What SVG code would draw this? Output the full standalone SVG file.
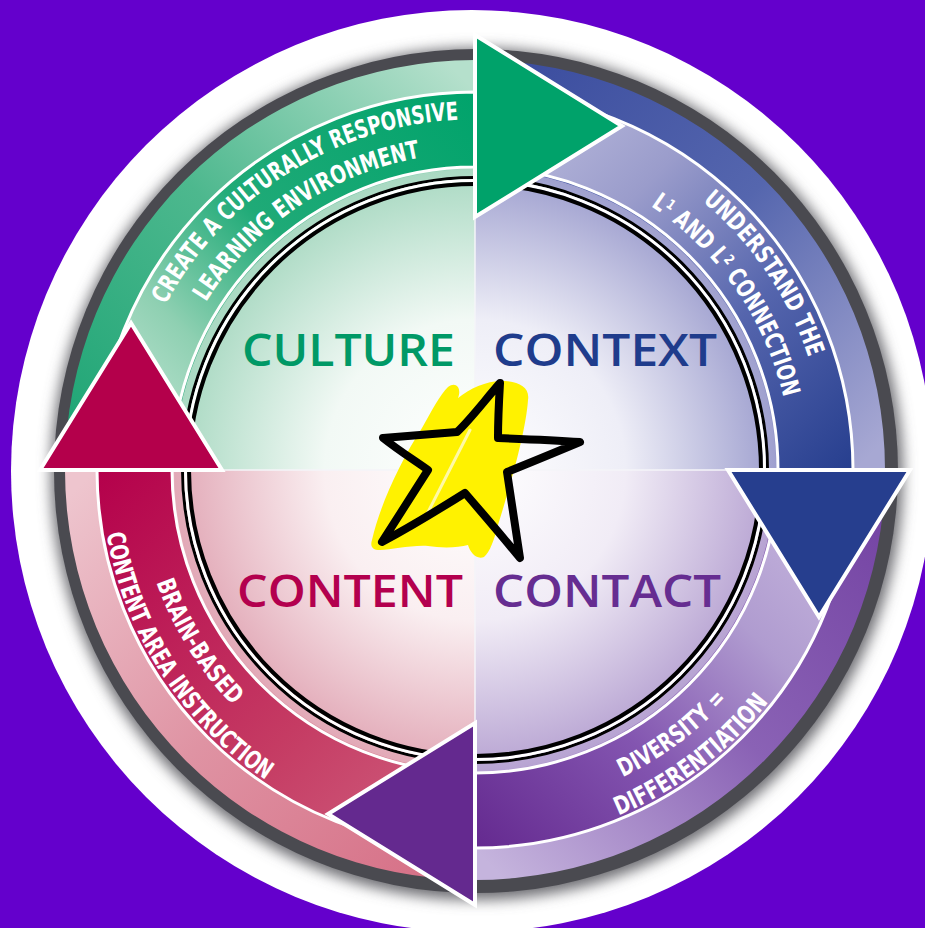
<svg xmlns="http://www.w3.org/2000/svg" width="925" height="928" viewBox="0 0 925 928">
<defs>
<style>
.band{font-family:"DejaVu Sans Condensed","DejaVu Sans",sans-serif;font-weight:bold;font-size:25px;fill:#fff}
.big{font-family:"Open Sans",Lato,sans-serif;font-weight:600;font-size:46px}
.shaft{stroke:#fff;stroke-width:3;stroke-linejoin:miter}
.head{stroke:#fff;stroke-width:4;stroke-linejoin:miter}
</style>
<filter id="blur" x="-20%" y="-20%" width="140%" height="140%"><feGaussianBlur stdDeviation="7"/></filter>
<linearGradient id="gOut" gradientUnits="userSpaceOnUse" x1="95" y1="470" x2="475" y2="90"><stop offset="0" stop-color="#1EA575"/><stop offset="0.5" stop-color="#4DB88E"/><stop offset="1" stop-color="#B5E0CC"/></linearGradient>
<linearGradient id="gSh" gradientUnits="userSpaceOnUse" x1="95" y1="470" x2="475" y2="90"><stop offset="0" stop-color="#D8EFE4"/><stop offset="0.3" stop-color="#8FD0B2"/><stop offset="0.55" stop-color="#1FAA77"/><stop offset="1" stop-color="#00A36B"/></linearGradient>
<linearGradient id="bOut" gradientUnits="userSpaceOnUse" x1="475" y1="90" x2="855" y2="470"><stop offset="0" stop-color="#3A4C9E"/><stop offset="0.5" stop-color="#5566AE"/><stop offset="1" stop-color="#A7A8D3"/></linearGradient>
<linearGradient id="bSh" gradientUnits="userSpaceOnUse" x1="475" y1="90" x2="855" y2="470"><stop offset="0" stop-color="#C5C5E3"/><stop offset="0.35" stop-color="#9A9CCB"/><stop offset="0.65" stop-color="#5565AD"/><stop offset="1" stop-color="#263E8E"/></linearGradient>
<linearGradient id="pOut" gradientUnits="userSpaceOnUse" x1="855" y1="470" x2="475" y2="850"><stop offset="0" stop-color="#7443A3"/><stop offset="0.5" stop-color="#8A62B5"/><stop offset="1" stop-color="#C5B4DD"/></linearGradient>
<linearGradient id="pSh" gradientUnits="userSpaceOnUse" x1="855" y1="470" x2="475" y2="850"><stop offset="0" stop-color="#CDBFE2"/><stop offset="0.35" stop-color="#B09CD0"/><stop offset="0.65" stop-color="#8355B0"/><stop offset="1" stop-color="#64298F"/></linearGradient>
<linearGradient id="rOut" gradientUnits="userSpaceOnUse" x1="475" y1="850" x2="95" y2="470"><stop offset="0" stop-color="#D66F86"/><stop offset="0.5" stop-color="#DF93A3"/><stop offset="1" stop-color="#EEC5CE"/></linearGradient>
<linearGradient id="rSh" gradientUnits="userSpaceOnUse" x1="475" y1="850" x2="95" y2="470"><stop offset="0" stop-color="#D06482"/><stop offset="0.4" stop-color="#C53B63"/><stop offset="1" stop-color="#B4004B"/></linearGradient>
<radialGradient id="qG" gradientUnits="userSpaceOnUse" cx="475" cy="470" r="301"><stop offset="0" stop-color="#FFFFFF"/><stop offset="0.5" stop-color="#F2F9F5"/><stop offset="1" stop-color="#A9D9C2"/></radialGradient>
<radialGradient id="qB" gradientUnits="userSpaceOnUse" cx="475" cy="470" r="301"><stop offset="0" stop-color="#FFFFFF"/><stop offset="0.5" stop-color="#EEEEF7"/><stop offset="1" stop-color="#9FA0CF"/></radialGradient>
<radialGradient id="qP" gradientUnits="userSpaceOnUse" cx="475" cy="470" r="301"><stop offset="0" stop-color="#FFFFFF"/><stop offset="0.5" stop-color="#F1ECF6"/><stop offset="1" stop-color="#B7A3D2"/></radialGradient>
<radialGradient id="qR" gradientUnits="userSpaceOnUse" cx="475" cy="470" r="301"><stop offset="0" stop-color="#FFFFFF"/><stop offset="0.5" stop-color="#FAEFF1"/><stop offset="1" stop-color="#E2A9B7"/></radialGradient>
<path id="tg1" d="M132.6,392.8 A352,352 0 0 1 552.2,127.6"/>
<path id="tg2" d="M163.8,409.5 A317,317 0 0 1 535.5,158.8"/>
<path id="tb1" d="M541,124.2 A352,352 0 0 1 820.8,536"/>
<path id="tb2" d="M531.1,158 A317,317 0 0 1 787,526.1"/>
<path id="tp1" d="M425.8,807.4 A341,341 0 0 0 812.4,519.2"/>
<path id="tp2" d="M423.6,840.5 A374,374 0 0 0 845.5,521.4"/>
<path id="tr1" d="M146,392.8 A338,338 0 0 0 397.8,799"/>
<path id="tr2" d="M109.3,391.6 A374,374 0 0 0 396.6,835.7"/>
</defs>

<rect width="925" height="928" fill="#6400CC"/>
<circle cx="472" cy="471" r="461" fill="#FFFFFF"/>
<circle cx="477" cy="474" r="426" fill="#6d6d72" filter="url(#blur)"/>
<circle cx="476" cy="471" r="422" fill="#4A4A50"/>

<g id="outer-strips">
<path d="M65,470 A410,410 0 0 1 475,60 L475,171 A299,299 0 0 0 176,470 Z" fill="url(#gOut)"/>
<path d="M475,60 A410,410 0 0 1 885,470 L774,470 A299,299 0 0 0 475,171 Z" fill="url(#bOut)"/>
<path d="M885,470 A410,410 0 0 1 475,880 L475,769 A299,299 0 0 0 774,470 Z" fill="url(#pOut)"/>
<path d="M475,880 A410,410 0 0 1 65,470 L176,470 A299,299 0 0 0 475,769 Z" fill="url(#rOut)"/>
</g>

<g id="center">
<path d="M475,470 L174,470 A301,301 0 0 1 475,169 Z" fill="url(#qG)"/>
<path d="M475,470 L475,169 A301,301 0 0 1 776,470 Z" fill="url(#qB)"/>
<path d="M475,470 L776,470 A301,301 0 0 1 475,771 Z" fill="url(#qP)"/>
<path d="M475,470 L475,771 A301,301 0 0 1 174,470 Z" fill="url(#qR)"/>
<circle cx="475" cy="470" r="292.5" fill="none" stroke="#000" stroke-width="3"/>
<circle cx="475" cy="470" r="289.5" fill="none" stroke="#fff" stroke-width="3"/>
<circle cx="475" cy="470" r="286" fill="none" stroke="#000" stroke-width="4"/>
<line x1="475" y1="184" x2="475" y2="756" stroke="#F4F4F8" stroke-width="1.5"/>
<line x1="189" y1="470" x2="761" y2="470" stroke="#F4F4F8" stroke-width="1.5"/>
</g>

<g id="arrow-culture">
<path class="shaft" d="M97,470 A378,378 0 0 1 475,92 L475,167 A303,303 0 0 0 172,470 Z" fill="url(#gSh)"/>
</g>
<g id="arrow-context">
<path class="shaft" d="M475,92 A378,378 0 0 1 853,470 L778,470 A303,303 0 0 0 475,167 Z" fill="url(#bSh)"/>
</g>
<g id="arrow-contact">
<path class="shaft" d="M853,470 A378,378 0 0 1 475,848 L475,773 A303,303 0 0 0 778,470 Z" fill="url(#pSh)"/>
</g>
<g id="arrow-content">
<path class="shaft" d="M475,848 A378,378 0 0 1 97,470 L172,470 A303,303 0 0 0 475,773 Z" fill="url(#rSh)"/>
</g>

<g id="heads">
<polygon class="head" points="475,35 622,126 475,217" fill="#00A26A"/>
<polygon class="head" points="910,470 819,617 728,470" fill="#263E8E"/>
<polygon class="head" points="475,905 328,814 475,723" fill="#64298F"/>
<polygon class="head" points="40,470 131,323 222,470" fill="#B4004B"/>
</g>

<g id="band-labels" class="band">
<text text-anchor="middle"><textPath href="#tg1" startOffset="50%" textLength="362" lengthAdjust="spacingAndGlyphs">CREATE A CULTURALLY RESPONSIVE</textPath></text>
<text text-anchor="middle"><textPath href="#tg2" startOffset="50%" textLength="266" lengthAdjust="spacingAndGlyphs">LEARNING ENVIRONMENT</textPath></text>
<text text-anchor="middle"><textPath href="#tb1" startOffset="50%" textLength="191" lengthAdjust="spacingAndGlyphs">UNDERSTAND THE</textPath></text>
<text text-anchor="middle"><textPath href="#tb2" startOffset="50%" textLength="238" lengthAdjust="spacingAndGlyphs">L¹ AND L² CONNECTION</textPath></text>
<text text-anchor="middle"><textPath href="#tp1" startOffset="50%" textLength="131" lengthAdjust="spacingAndGlyphs">DIVERSITY =</textPath></text>
<text text-anchor="middle"><textPath href="#tp2" startOffset="50%" textLength="190" lengthAdjust="spacingAndGlyphs">DIFFERENTIATION</textPath></text>
<text text-anchor="middle"><textPath href="#tr1" startOffset="50%" textLength="146" lengthAdjust="spacingAndGlyphs">BRAIN-BASED</textPath></text>
<text text-anchor="middle"><textPath href="#tr2" startOffset="50%" textLength="301" lengthAdjust="spacingAndGlyphs">CONTENT AREA INSTRUCTION</textPath></text>
</g>

<g id="star">
<path d="M372,540 C380,505 400,462 422,428 C432,410 440,395 448,387 C456,381 462,388 458,398 C470,388 488,380 505,381 C520,382 530,388 528,400 C526,430 512,480 498,525 C494,540 490,552 484,557 C476,560 470,552 468,545 C458,548 440,548 428,546 C410,545 392,550 380,550 C372,550 370,546 372,540 Z" fill="#FFF200"/>
<path d="M424,520 L470,430" stroke="#FFFBD0" stroke-width="3" stroke-linecap="round" opacity="0.8"/>
<path d="M500,383 C485,400 470,420 457,432 C430,434 405,436 383,438 C398,450 414,460 428,470 C412,495 396,520 382,542 C410,527 438,510 465,493 C484,515 502,536 520,558 C516,530 511,500 507,472 C532,462 556,452 580,442 C552,440 525,439 498,438 C498,420 499,400 500,383 Z" fill="none" stroke="#000" stroke-width="8" stroke-linejoin="round"/>
</g>

<g id="q-culture"><text class="big" x="242" y="366" fill="#009966" textLength="213" lengthAdjust="spacingAndGlyphs">CULTURE</text></g>
<g id="q-context"><text class="big" x="493" y="366" fill="#1F3C8C" textLength="224" lengthAdjust="spacingAndGlyphs">CONTEXT</text></g>
<g id="q-content"><text class="big" x="237" y="607" fill="#B3004E" textLength="226" lengthAdjust="spacingAndGlyphs">CONTENT</text></g>
<g id="q-contact"><text class="big" x="493" y="607" fill="#662D91" textLength="228" lengthAdjust="spacingAndGlyphs">CONTACT</text></g>
</svg>
